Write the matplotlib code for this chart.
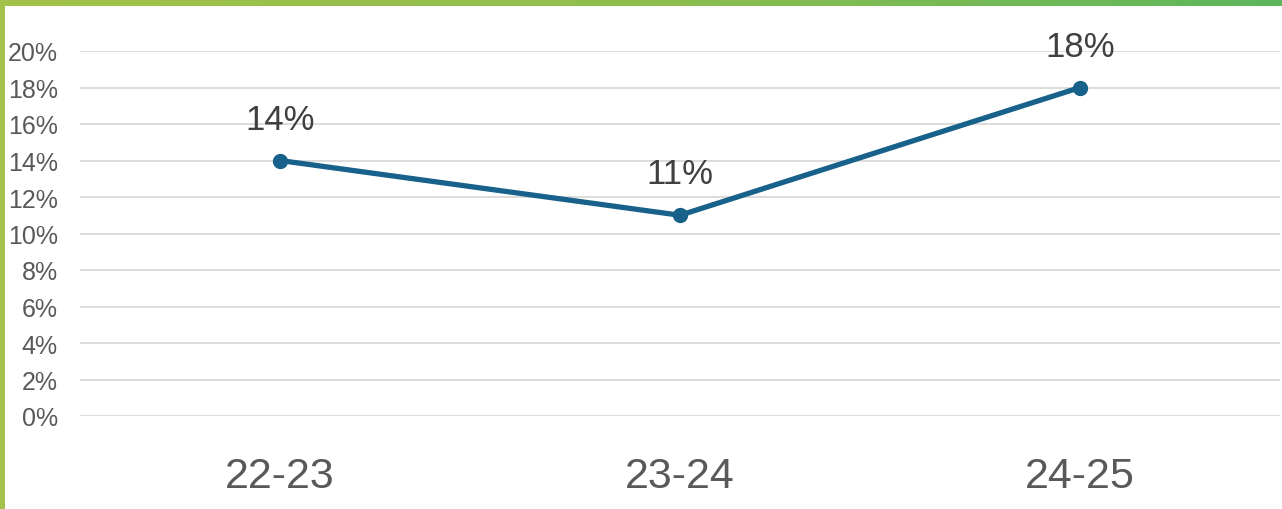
import numpy as np
import matplotlib
matplotlib.use("Agg")
import matplotlib.pyplot as plt
from matplotlib.ticker import FuncFormatter
from matplotlib.colors import LinearSegmentedColormap

categories = ["22-23", "23-24", "24-25"]
values = [0.14, 0.11, 0.18]
labels = ["14%", "11%", "18%"]
yticks = [0.0, 0.02, 0.04, 0.06, 0.08, 0.10, 0.12, 0.14, 0.16, 0.18, 0.20]

plt.rcParams['font.family'] = ['Liberation Sans', 'DejaVu Sans']

W, H = 1282, 510
fig = plt.figure(figsize=(W / 100, H / 100), dpi=100)
fig.patch.set_facecolor("white")

# border bands
cmap = LinearSegmentedColormap.from_list("g", ["#a3c24a", "#8fbe4e", "#5db65c"])
top = fig.add_axes([0, 1 - 7 / H, 1, 7 / H])
top.imshow(np.linspace(0, 1, 256)[None, :], aspect="auto", cmap=cmap)
top.axis("off")
left = fig.add_axes([0, 0, 5 / W, 1 - 7 / H])
left.set_facecolor("#a3c24a")
left.set_xticks([]); left.set_yticks([])
for s in left.spines.values():
    s.set_visible(False)

ax = fig.add_axes([80 / W, (H - 417) / H, 1200 / W, 365 / H])
x = np.arange(len(categories))
ax.plot(x, values, color="#17618a", lw=3.8, marker="o", markersize=10,
        solid_capstyle="round", zorder=3, clip_on=False)
for xi, v, lab in zip(x, values, labels):
    ax.annotate(lab, (xi, v), xytext=(0, 23), textcoords="offset points",
                ha="center", va="baseline", fontsize=25, color="#404040")

ax.set_xlim(-0.5, 2.5)
ax.set_ylim(0, 0.20)
ax.set_yticks(yticks)
ax.yaxis.set_major_formatter(FuncFormatter(lambda v, p: f"{v*100:.0f}%"))
ax.set_xticks(x)
ax.set_xticklabels(categories)
ax.tick_params(axis="y", length=0, pad=16, labelsize=18, labelcolor="#595959")
ax.tick_params(axis="x", length=0, pad=29, labelsize=31, labelcolor="#595959")
ax.grid(axis="y", color="#d9d9d9", lw=1.3)
ax.set_axisbelow(True)
for s in ax.spines.values():
    s.set_visible(False)

fig.savefig("out.png", dpi=100, facecolor="white")
